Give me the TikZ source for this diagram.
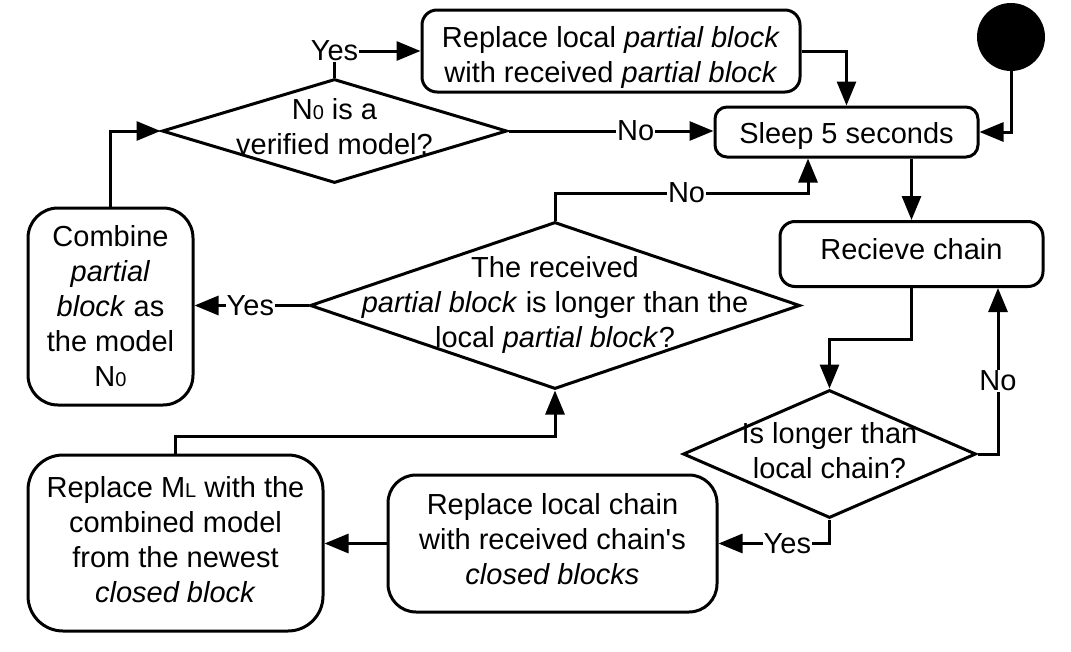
\documentclass[tikz,border=0pt]{standalone}
\usepackage{fontspec}
\setmainfont{Liberation Sans}
\newfontfamily\apofont{Liberation Sans}
\usetikzlibrary{shapes.geometric,arrows.meta,calc}
\newcommand{\subsm}[1]{{\fontsize{20}{20}\selectfont #1}}
\begin{document}
\begin{tikzpicture}[x=1pt,y=-1pt,
  every node/.style={font=\fontsize{29}{35}\selectfont},
  box/.style={draw,line width=3pt,rounded corners=15pt,inner sep=0pt},
  dia/.style={draw,diamond,line width=3pt,inner sep=0pt},
  txt/.style={align=center,inner sep=0pt},
  arr/.style={line width=3pt,-{Triangle[length=24pt,width=19pt]}},
  lbl/.style={fill=white,inner sep=1pt}]
\useasboundingbox (0,0) rectangle (1071,651);

% start
\node[circle,fill=black,minimum size=68pt,inner sep=0pt] (start) at (1011,37) {};

% boxes
\node[box,minimum width=378pt,minimum height=82pt] (rep1) at (611,51) {};
\node[txt] at (611,57) {Replace local \textit{partial block}\\with received \textit{partial block}};
\node[box,rounded corners=12pt,minimum width=263pt,minimum height=50pt] (sleep) at (846.5,132) {};
\node[txt] at (846.5,135.5) {Sleep 5 seconds};
\node[box,minimum width=263pt,minimum height=65pt] (recv) at (911.5,254) {};
\node[txt] at (911.5,249.5) {Recieve chain};
\node[box,rounded corners=28pt,minimum width=329pt,minimum height=137pt] (rep2) at (552.5,543.5) {};
\node[txt] at (552.5,539.5) {Replace local chain\\with received chain{\apofont'}s\\\textit{closed blocks}};
\node[box,rounded corners=35pt,minimum width=295pt,minimum height=176pt] (repml) at (175.5,543) {};
\node[txt] at (175.5,540) {Replace M\subsm{L} with the\\combined model\\from the newest\\\textit{closed block}};
\node[box,rounded corners=30pt,minimum width=165pt,minimum height=197pt] (comb) at (110.5,306.5) {};
\node[txt] at (110.5,306.5) {Combine\\\textit{partial}\\\textit{block} as\\the model\\N\subsm{0}};

% diamonds
\node[dia,minimum width=345pt,minimum height=104pt] (d1) at (334.5,131) {};
\node[txt] at (334.5,127) {N\subsm{0} is a\\verified model?};
\node[dia,minimum width=490pt,minimum height=167pt] (d3) at (555,305.5) {};
\node[txt] at (555,305) {The received\\\textit{partial block} is longer than the\\local \textit{partial block}?};
\node[dia,minimum width=293pt,minimum height=128pt] (d2) at (829.5,454) {};
\node[txt] at (829.5,451) {Is longer than\\local chain?};

% bend coordinates
\coordinate (c1) at (808,193);
\coordinate (c2) at (998,0);

% connectors
\draw[arr] (d1.north) |- node[lbl,pos=0.5]{Yes} (rep1.west);
\draw[arr] (rep1.east) -| (sleep.north);
\draw[arr] (start.south) |- (sleep.east);
\draw[arr] (d1.east) -- node[lbl,pos=0.62]{No} (d1.east -| sleep.west);
\draw[arr] (sleep.south -| recv.north) -- (recv.north);
\draw[arr] (recv.south) -- ++(0,51) -| (d2.north);
\draw[arr] (d2.east) -| node[lbl,pos=0.72]{No} (c2 |- recv.south);
\draw[arr] (d2.south) |- node[lbl,pos=0.69]{Yes} (rep2.east);
\draw[arr] (rep2.west) -- (repml.east |- rep2.west);
\draw[arr] (repml.north) -- ++(0,-17) -| (d3.south);
\draw[arr] (d3.north) |- node[lbl,pos=0.76]{No} (c1) -- (c1 |- sleep.south);
\draw[arr] (d3.west) -- node[lbl,pos=0.51]{Yes} (comb.east |- d3.west);
\draw[arr] (comb.north) |- (d1.west);
\end{tikzpicture}
\end{document}
